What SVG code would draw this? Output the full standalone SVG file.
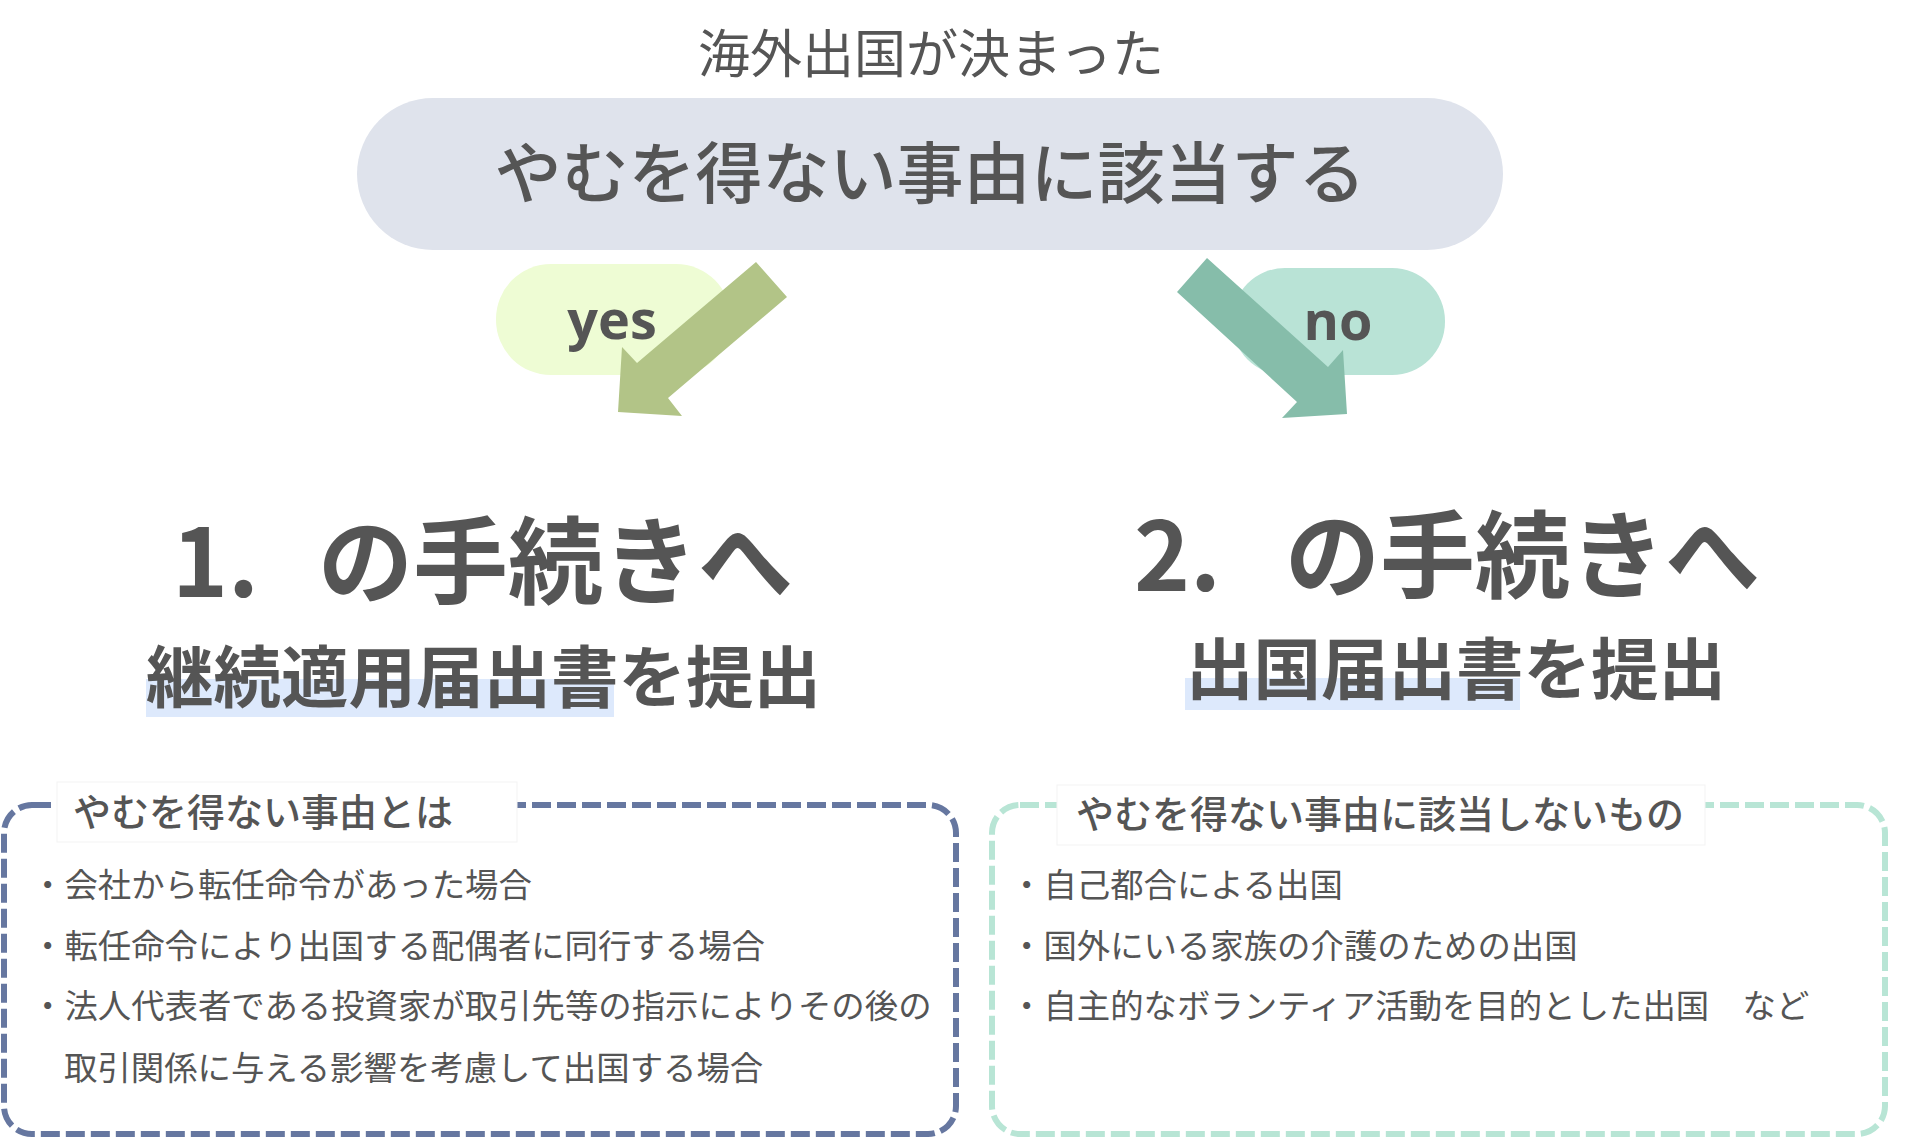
<svg xmlns="http://www.w3.org/2000/svg" width="1920" height="1138" viewBox="0 0 1920 1138">
<style>
.jp{font-family:"Noto Sans CJK JP","Noto Sans",sans-serif;fill:#555555}
.lat{font-family:"Open Sans","Noto Sans",sans-serif;font-weight:700;fill:#555555}
.item{font-size:33.4px;font-weight:400}
.lbl{font-size:38px;font-weight:500}
.head{font-size:95px;font-weight:700}
.sub{font-size:67.5px;font-weight:700}
.hl{fill:#dde9fc}
.lblbg{fill:#ffffff;stroke:#f3f3f3;stroke-width:1}
</style>
<rect width="1920" height="1138" fill="#ffffff"/>
<g id="title">
<text class="jp" x="931" y="73" font-size="52" text-anchor="middle">海外出国が決まった</text>
</g>
<g id="question">
<rect x="357" y="98" width="1146" height="152" rx="76" fill="#dfe3ec"/>
<text class="jp" x="930" y="198" font-size="67" font-weight="500" text-anchor="middle">やむを得ない事由に該当する</text>
</g>
<g id="yes-label">
<rect x="496" y="264" width="235" height="111" rx="55" fill="#eefcd4"/>
<text class="lat" x="612" y="339" font-size="54" text-anchor="middle">yes</text>
</g>
<g id="no-label">
<rect x="1232" y="268" width="213" height="107" rx="53" fill="#b9e3d6"/>
<text class="lat" x="1338" y="340" font-size="54" text-anchor="middle">no</text>
</g>
<g id="connectors">
<polygon points="756,262 787,297 668,398 682,416 618,412 622,347 637,363" fill="#b2c487"/>
<polygon points="1207,258 1328,367 1343,350 1347,414 1282,418 1297,402 1177,292" fill="#86bdaa"/>
</g>
<g id="result-1">
<rect class="hl" x="146" y="679" width="468" height="38"/>
<text class="jp head" y="597"><tspan x="172">1. </tspan><tspan x="318">の手続きへ</tspan></text>
<text class="jp sub" x="146" y="702" font-size="68.3">継続適用届出書を提出</text>
</g>
<g id="result-2">
<rect class="hl" x="1185" y="678" width="335" height="32"/>
<text class="jp head" y="591"><tspan x="1134">2. </tspan><tspan x="1285">の手続きへ</tspan></text>
<text class="jp sub" x="1186" y="694">出国届出書を提出</text>
</g>
<g id="box-yes">
<rect x="4" y="805" width="952" height="329" rx="28" fill="none" stroke="#6677a0" stroke-width="6" stroke-dasharray="19 6"/>
<rect class="lblbg" x="57" y="782" width="460" height="60"/>
<text class="jp lbl" x="73" y="826">やむを得ない事由とは</text>
<text class="jp item" x="31" y="897">・会社から転任命令があった場合</text>
<text class="jp item" x="31" y="958">・転任命令により出国する配偶者に同行する場合</text>
<text class="jp item" x="31" y="1018">・法人代表者である投資家が取引先等の指示によりその後の</text>
<text class="jp item" x="64" y="1080">取引関係に与える影響を考慮して出国する場合</text>
</g>
<g id="box-no">
<rect x="992" y="805" width="893" height="329" rx="28" fill="none" stroke="#b8e5d5" stroke-width="6" stroke-dasharray="19 6"/>
<rect class="lblbg" x="1057" y="785" width="648" height="60"/>
<text class="jp lbl" x="1076" y="828">やむを得ない事由に該当しないもの</text>
<text class="jp item" x="1010" y="897">・自己都合による出国</text>
<text class="jp item" x="1010" y="958">・国外にいる家族の介護のための出国</text>
<text class="jp item" x="1010" y="1018">・自主的なボランティア活動を目的とした出国　など</text>
</g>
</svg>
